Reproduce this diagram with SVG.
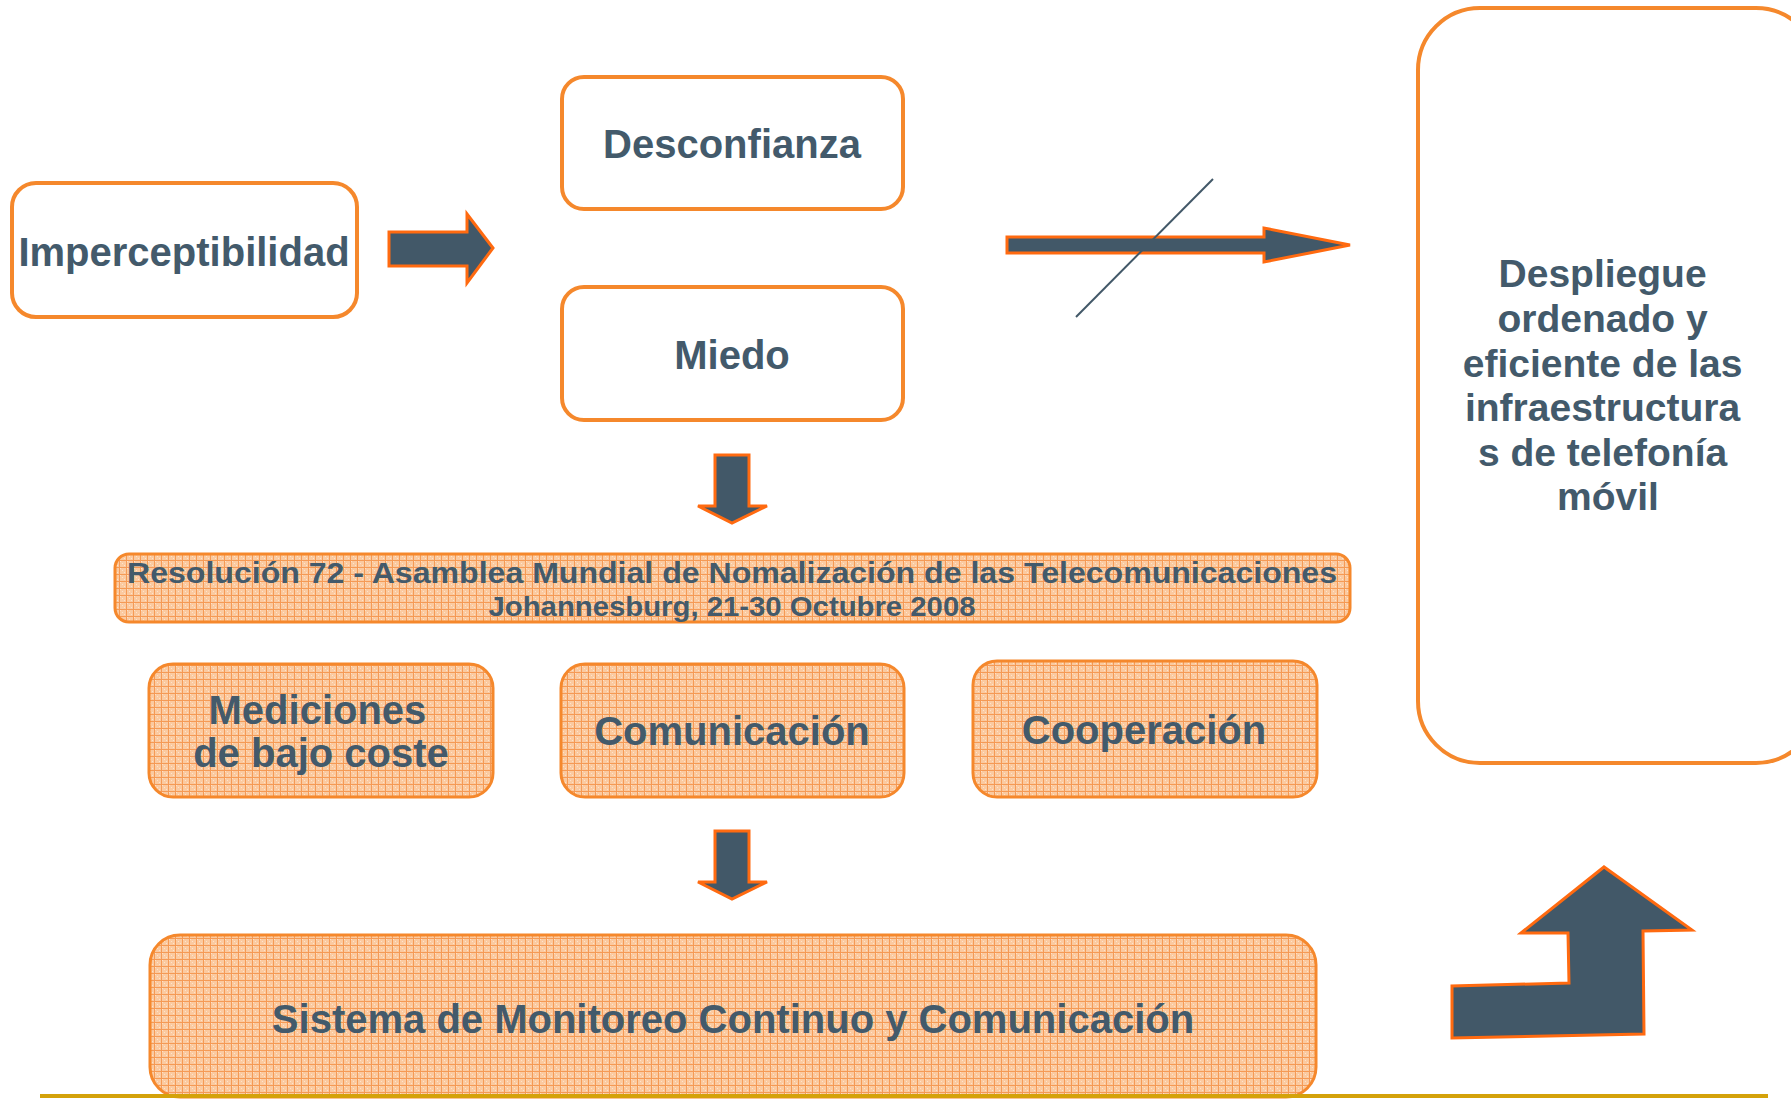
<svg xmlns="http://www.w3.org/2000/svg" width="1791" height="1099" viewBox="0 0 1791 1099">
<defs>
<pattern id="grid" width="7" height="7" patternUnits="userSpaceOnUse">
<rect width="7" height="7" fill="#fbcaa0"/>
<rect x="1" y="1" width="1" height="1" fill="#fde3cc"/>
<rect x="3" y="3" width="1" height="1" fill="#fde3cc"/>
<rect x="5" y="5" width="1" height="1" fill="#fde3cc"/>
<rect x="0" y="0" width="7" height="1" fill="#f59a55"/>
<rect x="0" y="0" width="1" height="7" fill="#f59a55"/>
</pattern>
<style>
.ob{fill:#ffffff;stroke:#f5882c;stroke-width:4}
.fb{fill:url(#grid);stroke:#f5882c;stroke-width:3}
.t{font-family:"Liberation Sans",Arial,sans-serif;font-weight:bold;fill:#435a6b;text-anchor:middle}
.ar{fill:#425868;stroke:#ff6a10;stroke-width:3;stroke-linejoin:miter}
</style>
</defs>
<rect width="1791" height="1099" fill="#ffffff"/>

<g id="imperceptibilidad">
<rect class="ob" x="12" y="183" width="345" height="134" rx="24"/>
<text class="t" x="184" y="266" font-size="40">Imperceptibilidad</text>
</g>

<g id="desconfianza">
<rect class="ob" x="562" y="77" width="341" height="132" rx="22"/>
<text class="t" x="732" y="158" font-size="40">Desconfianza</text>
</g>

<g id="miedo">
<rect class="ob" x="562" y="287" width="341" height="133" rx="22"/>
<text class="t" x="732" y="369" font-size="40">Miedo</text>
</g>

<g id="despliegue">
<rect class="ob" x="1418" y="8" width="400" height="755" rx="62"/>
<text class="t" font-size="39">
<tspan x="1608" y="287">Despliegue</tspan>
<tspan x="1608" y="332">ordenado y</tspan>
<tspan x="1608" y="377">eficiente de las</tspan>
<tspan x="1608" y="421">infraestructura</tspan>
<tspan x="1608" y="466">s de telefonía</tspan>
<tspan x="1608" y="510">móvil</tspan>
</text>
</g>

<g id="resolucion">
<rect class="fb" x="115" y="554" width="1235" height="68" rx="14"/>
<text class="t" x="732" y="583" font-size="30" textLength="1210" lengthAdjust="spacingAndGlyphs">Resolución 72 - Asamblea Mundial de Nomalización de las Telecomunicaciones</text>
<text class="t" x="732" y="616" font-size="28" textLength="487" lengthAdjust="spacingAndGlyphs">Johannesburg, 21-30 Octubre 2008</text>
</g>

<g id="mediciones">
<rect class="fb" x="149" y="664" width="344" height="133" rx="24"/>
<text class="t" font-size="40">
<tspan x="323" y="724">Mediciones</tspan>
<tspan x="321" y="767">de bajo coste</tspan>
</text>
</g>

<g id="comunicacion">
<rect class="fb" x="561" y="664" width="343" height="133" rx="24"/>
<text class="t" x="732" y="745" font-size="40">Comunicación</text>
</g>

<g id="cooperacion">
<rect class="fb" x="973" y="661" width="344" height="136" rx="24"/>
<text class="t" x="1144" y="744" font-size="40">Cooperación</text>
</g>

<g id="sistema">
<rect class="fb" x="150" y="935" width="1166" height="162" rx="30"/>
<text class="t" x="733" y="1033" font-size="40">Sistema de Monitoreo Continuo y Comunicación</text>
</g>

<g id="connectors">
<polygon class="ar" points="389,232 467,232 467,214 493,248 467,283 467,266 389,266"/>
<polygon class="ar" points="1007,237 1264,237 1264,228 1350,245 1264,262 1264,253 1007,253"/>
<line x1="1076" y1="317" x2="1213" y2="179" stroke="#425868" stroke-width="2"/>
<polygon class="ar" points="715,455 749,455 749,506 767,506 732,523 698,506 715,506"/>
<polygon class="ar" points="715,831 749,831 749,882 767,882 732,899 698,882 715,882"/>
<polygon class="ar" points="1452,1038 1452,986 1569,983 1568,933 1521,933 1604,867 1692,930 1643,931 1644,1034"/>
</g>

<line x1="40" y1="1096" x2="1768" y2="1096" stroke="#d4a20a" stroke-width="4"/>
</svg>
